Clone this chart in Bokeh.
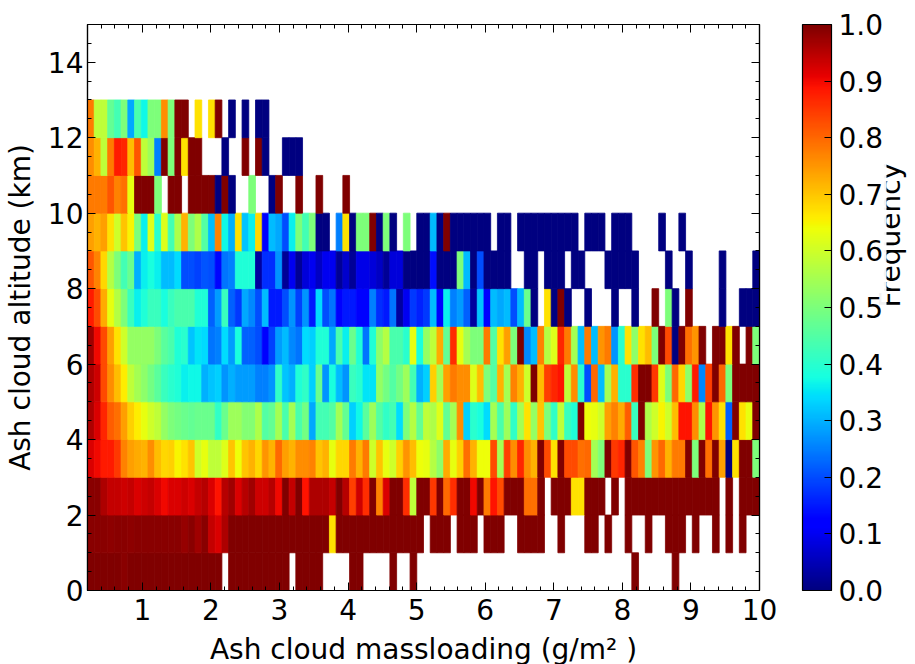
import math
import numpy as np
from bokeh.plotting import figure
from bokeh.embed import file_html
from bokeh.resources import INLINE
from bokeh.models import (ColumnDataSource, LinearColorMapper, ColorBar, FixedTicker,
                          LinearAxis, Range1d, PrintfTickFormatter)
from bokeh.transform import transform

N = None
x_min, x_max, n_bins = 0.2, 10.0, 100
x_ticks = [1, 2, 3, 4, 5, 6, 7, 8, 9, 10]
y_ticks = [0, 2, 4, 6, 8, 10, 12, 14]
cbar_ticks = [0.0, 0.1, 0.2, 0.3, 0.4, 0.5, 0.6, 0.7, 0.8, 0.9, 1.0]
x_label = "Ash cloud massloading (g/m² )"
y_label = "Ash cloud altitude (km)"
cbar_label = "Frequency"

row0 = ([1,1,1,1,1,.99,1,1,1,1,1,1,1,1,1,1,1,1,1,1] + [N] + [1]*9 + [N] + [1]*4 + [N]*4 + [1,1] + [N]*4 + [1] + [N,N] + [1] + [N]
        + [N]*31 + [1] + [N]*5 + [1])
row1 = ([.99,.99,.99,.985,.99,.99,.985,.99,.99,.99,.99,.99,.99,.99,.98,.99,.97,.99,.94,.92,.96] + [1]*15 + [.67] + [1]*13
        + [N,1,1,1,N,1,1,1,N,1,1,1,N,N,1,1,1,1,N,N,1,N,N,N,1,1,N,1,N,N,1,N,N,1,N,N,1,1,1,N,1,N,N,1,N,1,N,1,N,N])
row2 = [.99,.99,.96,.94,.94,.93,.94,.92,.93,.94,.92,.9,.92,.92,.93,.92,.94,.95,.92,.89,.95,.97,.92,.95,.97,.93,.93,.95,.9,1,
        .94,1,.89,.96,.96,.96,.94,1,.95,.84,.93,.86,1,.77,.92,1,1,.86,.58,1,
        1,.85,1,.8,.86,1,1,.9,1,.78,.89,.83,1,1,1,.79,.79,1,N,1,1,1,.67,.67,1,1,1,N,1,N,
        1,1,1,1,1,1,1,1,1,1,1,1,1,1,N,1,N,1,1,1]
row3 = [.92,.9,.88,.88,.85,.77,.74,.73,.72,.76,.71,.68,.69,.65,.67,.7,.6,.63,.58,.58,.62,.7,.64,.7,.72,.68,.75,.72,.8,.74,
        .72,.76,.76,.77,.7,.72,.63,.68,.68,.78,.72,.78,.6,.7,.63,.6,.69,.75,.71,.64,
        .63,.57,.52,.73,.63,.69,.79,.72,.64,.64,.83,.55,.84,.76,.87,.76,.72,1,.83,.67,1,.83,.83,.79,.8,.55,.5,1,.85,.87,
        1,.82,.77,.5,.75,.8,.72,.78,.78,1,.5,1,.79,1,.74,0,.67,1,1,.5]
row4 = [.96,.92,.87,.81,.79,.74,.69,.66,.63,.6,.58,.53,.5,.49,.48,.47,.48,.48,.48,.41,.48,.54,.54,.51,.51,.56,.45,.47,.55,.44,
        .55,.44,.49,.29,.43,.43,.45,.55,.47,.33,.37,.46,.54,.45,.41,.43,.34,.5,.57,.47,
        .58,.56,.62,.47,.55,.76,.33,.4,.38,.34,.55,.44,.54,.41,.55,.67,.53,.7,.5,.41,.58,.42,.39,1,.64,.63,.6,.74,.77,.73,
        .81,.42,1,.56,.6,.65,.6,.71,.89,.89,.76,.56,.89,.75,.67,.22,1,.67,.63,1]
row5 = [.96,.93,.83,.76,.71,.66,.58,.55,.52,.49,.46,.42,.4,.39,.36,.37,.37,.3,.32,.33,.27,.3,.28,.28,.28,.25,.25,.27,.41,.32,
        .3,.39,.41,.33,.48,.27,.38,.31,.27,.42,.4,.35,.35,.53,.49,.45,.49,.54,.43,.3,
        .33,.69,.55,.74,.78,.76,.76,.62,.71,.5,.45,.72,.55,.77,.72,.6,1,.71,.84,.87,.89,.58,.76,.4,.2,.8,.31,.55,.72,.4,
        .4,.86,1,1,.85,.62,.5,.8,.68,.52,.88,.26,.84,1,.8,.5,1,1,1,1]
row6 = [.97,.9,.83,.74,.67,.6,.53,.53,.53,.53,.5,.46,.44,.39,.4,.32,.35,.34,.24,.25,.34,.28,.38,.22,.22,.2,.12,.19,.28,.31,
        .26,.24,.34,.33,.39,.39,.29,.44,.36,.48,.39,.24,.39,.52,.57,.44,.44,.4,.63,.38,
        .53,.58,.73,.47,.86,.63,.55,.5,.5,.78,.45,.67,.74,.5,1,.26,.31,.77,.57,.62,.87,.78,.55,.31,.78,.31,.75,.78,.27,.4,
        .67,.52,.67,.71,.5,1,.83,0,1,.79,.75,1,N,1,1,.67,1,N,1,.5]
row7 = [.88,.83,.73,.63,.57,.5,.42,.36,.39,.42,.42,.38,.42,.44,.44,.44,.39,.39,.22,.28,.42,.22,.18,.29,.26,.2,.31,.15,.15,.2,
        .27,.19,.27,.15,.34,.2,.24,.11,.15,.15,.11,.11,.25,.17,.15,.24,.03,.1,.18,.16,
        .18,.31,.12,.36,.25,.28,.22,.03,.32,.11,.31,.29,.31,.2,.31,.48,0,N,.67,0,1,0,N,N,0,N,N,N,0,N,
        N,0,N,N,1,N,.5,0,N,1,N,N,N,N,0,N,N,0,0,0]
row8 = [.82,.77,.68,.57,.5,.43,.48,.3,.36,.38,.36,.31,.31,.34,.2,.2,.19,.21,.2,.13,.24,.25,.39,.39,.39,.03,.17,.17,.27,.02,
        .1,.02,.08,.1,.06,.1,.1,.02,.07,.02,.09,.09,.08,.06,.02,.08,.08,0,0,0,
        0,.14,0,0,0,.5,.31,0,.2,0,0,0,0,N,N,0,0,N,0,0,0,N,0,0,N,N,N,0,0,0,
        0,0,N,N,N,N,0,N,N,0,N,N,N,N,0,N,N,N,N,0]
row9 = [.74,.72,.74,.67,.6,.7,.65,.5,.36,.62,.4,.62,.43,.56,.72,.5,.56,.45,.31,.77,.37,.3,.67,.32,.36,.68,.12,.31,.29,.2,
        .36,.5,.43,.5,0,0,N,.25,.67,0,.5,.5,1,0,.5,0,N,.5,N,0,
        0,.31,0,1,0,0,0,0,0,0,N,0,0,N,0,0,0,0,0,0,0,0,0,N,0,0,0,N,0,0,
        0,N,N,N,N,0,N,N,0]
row10 = [.78,.78,.78,.82,.77,.79,.63,1,1,1,.5,N,1,1,N,1,1,1,1,0,1,0,N,N,.5,N,N,0,1,N,N,1,N,N,1,N,N,N,1]
row11 = [.76,.72,.58,.78,.88,.87,.71,.82,.58,.54,.25,1,.5,1,.67,1,1,N,N,N,0,N,N,1,N,1,0,N,N,0,0,0]
row12 = [.78,.58,.58,.47,.43,.5,.29,.44,.37,.5,.5,.76,.5,1,1,N,.67,N,.67,1,N,0,N,0,N,0,0]
rows = [row0, row1, row2, row3, row4, row5, row6, row7, row8, row9, row10, row11, row12]

# matplotlib's "jet" colour map
t = np.linspace(0, 1, 256)
red = np.interp(t, [0, .35, .66, .89, 1], [0, 0, 1, 1, .5])
green = np.interp(t, [0, .125, .375, .64, .91, 1], [0, 0, 1, 1, 0, 0])
blue = np.interp(t, [0, .11, .34, .65, 1], [.5, 1, 1, 0, 0])
jet = ["#%02x%02x%02x" % (int(round(r * 255)), int(round(g * 255)), int(round(b * 255)))
       for r, g, b in zip(red, green, blue)]
mapper = LinearColorMapper(palette=jet, low=0, high=1)

edges = np.linspace(x_min, x_max, n_bins + 1)
left, right, bottom, top, freq = [], [], [], [], []
for alt, row in enumerate(rows):
    for i, v in enumerate(row):
        if v is None:
            continue
        left.append(edges[i]); right.append(edges[i + 1])
        bottom.append(alt); top.append(alt + 1); freq.append(v)
source = ColumnDataSource(dict(left=left, right=right, bottom=bottom, top=top, freq=freq))

FONT = "DejaVu Sans"
SIZE = "28px"

p = figure(frame_width=672, frame_height=566, output_backend="svg", toolbar_location=None,
           x_range=Range1d(x_min, x_max), y_range=Range1d(0, 15), tools="",
           min_border_left=78, min_border_top=24, min_border_bottom=74, min_border_right=0,
           background_fill_color="white", border_fill_color="white")
p.grid.visible = False
p.outline_line_color = "black"
p.outline_line_width = 1.2

p.quad(left="left", right="right", bottom="bottom", top="top", source=source,
       fill_color=transform("freq", mapper), line_color=transform("freq", mapper), line_width=0.8)

x_minor = [round(0.2 * k, 1) for k in range(1, 50)]
y_minor = [0.5 * k for k in range(0, 30)]
x_ticker = FixedTicker(ticks=x_ticks, minor_ticks=x_minor)
y_ticker = FixedTicker(ticks=y_ticks, minor_ticks=y_minor)


def style(ax, labels):
    ax.major_tick_in = 8
    ax.major_tick_out = 0
    ax.minor_tick_in = 4
    ax.minor_tick_out = 0
    ax.major_tick_line_color = "black"
    ax.minor_tick_line_color = "black"
    ax.major_tick_line_width = 1
    ax.minor_tick_line_width = 1
    ax.axis_line_color = "black"
    ax.axis_line_width = 1.2
    if labels:
        ax.major_label_text_font = FONT
        ax.major_label_text_font_size = SIZE
        ax.major_label_text_color = "black"
        ax.axis_label_text_font = FONT
        ax.axis_label_text_font_size = SIZE
        ax.axis_label_text_font_style = "normal"
        ax.axis_label_text_color = "black"
    else:
        ax.major_label_text_color = None
        ax.major_label_text_font_size = "1px"
        ax.major_label_standoff = 0


xa = p.below[0]
xa.ticker = x_ticker
xa.axis_label = x_label
style(xa, True)
xa.major_label_standoff = 8
xa.axis_label_standoff = 10

ya = p.left[0]
ya.ticker = y_ticker
ya.axis_label = y_label
style(ya, True)
ya.major_label_standoff = 4
ya.axis_label_standoff = 8

top_axis = LinearAxis(ticker=x_ticker)
style(top_axis, False)
p.add_layout(top_axis, "above")
right_axis = LinearAxis(ticker=y_ticker)
style(right_axis, False)
p.add_layout(right_axis, "right")

bar = ColorBar(color_mapper=mapper, width=29, height=566, location=(43, 0), padding=0, margin=0,
               ticker=FixedTicker(ticks=cbar_ticks), formatter=PrintfTickFormatter(format="%.1f"),
               major_label_text_font=FONT, major_label_text_font_size=SIZE, major_label_text_color="black",
               major_tick_in=7, major_tick_out=0, major_tick_line_color="black", major_tick_line_width=1,
               minor_tick_line_color=None, bar_line_color="black", bar_line_width=1.2, label_standoff=7,
               border_line_color=None, background_fill_color="white")
p.add_layout(bar, "right")

freq_axis = LinearAxis(ticker=FixedTicker(ticks=[]), axis_label=cbar_label, axis_line_color=None,
                       major_tick_line_color=None, minor_tick_line_color=None,
                       major_tick_in=0, major_tick_out=0, minor_tick_in=0, minor_tick_out=0,
                       major_label_standoff=0, major_label_text_font_size="1px",
                       axis_label_text_font=FONT, axis_label_text_font_size=SIZE,
                       axis_label_text_font_style="normal", axis_label_text_color="black",
                       axis_label_standoff=4, axis_label_orientation=math.pi / 2,
                       bounds=(0, 11.4))
p.add_layout(freq_axis, "right")

open("out.html", "w").write(file_html(p, INLINE))
